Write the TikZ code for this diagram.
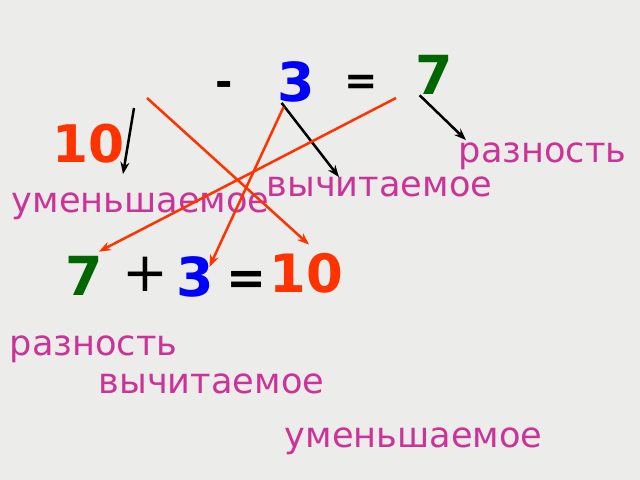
\documentclass[tikz,border=0pt]{standalone}
\usepackage{fontspec}
\setmainfont{DejaVu Sans}
\usetikzlibrary{arrows.meta}
\definecolor{bgpaper}{RGB}{236,236,234}
\definecolor{termpink}{RGB}{204,51,153}
\definecolor{numred}{RGB}{255,51,0}
\definecolor{numgreen}{RGB}{0,102,0}
\definecolor{numblue}{RGB}{0,0,255}
\tikzset{
  num/.style={inner sep=0pt, anchor=base, font=\fontsize{54}{60}\selectfont\bfseries},
  sign/.style={inner sep=0pt, anchor=base, font=\fontsize{55}{60}\selectfont},
  term/.style={inner sep=0pt, anchor=base west, text=termpink, font=\fontsize{35.3}{40}\selectfont},
  blackarrow/.style={line width=2.5bp, -{Stealth[length=12bp,width=9bp]}},
  redarrow/.style={numred, line width=2.5bp, -{Stealth[length=12bp,width=9bp]}}
}
\begin{document}
\begin{tikzpicture}[x=1bp,y=-1bp]
    \fill[bgpaper] (0,0) rectangle (640,480);
    \useasboundingbox (0,0) rectangle (640,480);
    % subtraction row
    \node[num, text=numred, font=\fontsize{52}{60}\selectfont\bfseries] (topTen) at (88.5,163) {10};
    \node[num, font=\fontsize{42}{48}\selectfont\bfseries] (topMinus) at (224,97) {-};
    \node[num, text=numblue]  (topThree) at (296.5,102) {3};
    \node[num, font=\fontsize{40}{48}\selectfont\bfseries] (topEq) at (361,95) {=};
    \node[num, text=numgreen] (topSeven) at (434.5,95) {7};
    \node[term] (topDiff) at (458.5,163) {разность};
    \node[term] (topSub)  at (266.5,197) {вычитаемое};
    \node[term] (topMin)  at (11.5,213)  {уменьшаемое};
    % addition row
    \node[num, text=numgreen] (botSeven) at (84,295)   {7};
    \node[sign, anchor=center] (botPlus) at (145,274)  {+};
    \node[num, text=numblue]  (botThree) at (195.5,296) {3};
    \node[num, font=\fontsize{48}{56}\selectfont\bfseries] (botEq) at (246.5,294.5) {=};
    \node[num, text=numred, font=\fontsize{53}{60}\selectfont\bfseries] (botTen) at (306,292) {10};
    \node[term] (botDiff) at (9.5,355)   {разность};
    \node[term] (botSub)  at (98.5,393)  {вычитаемое};
    \node[term] (botMin)  at (284.5,447) {уменьшаемое};
    % tails
    \coordinate (tenTail)   at (134,108);
    \coordinate (crossTail) at (147,98);
    \coordinate (sevenTail) at (396,98);
    % black arrows to the names
    \draw[blackarrow] (tenTail) -- ([xshift=111.5bp,yshift=19bp]topMin.north west);
    \draw[blackarrow] ([xshift=4bp]topThree.south west) -- ([xshift=72.5bp]topSub.north west);
    \draw[blackarrow] ([xshift=4bp]topSeven.south west) -- ([xshift=7.5bp,yshift=3bp]topDiff.north west);
    % red arrows to the sum
    \draw[redarrow] (crossTail) -- ([xshift=3bp,yshift=8bp]botTen.north);
    \draw[redarrow] (sevenTail) -- ([xshift=-4bp,yshift=4bp]botSeven.north east);
    \draw[redarrow] ([xshift=6bp,yshift=-4bp]topThree.south west) -- ([xshift=-5bp,yshift=-11bp]botThree.north east);
\end{tikzpicture}
\end{document}
